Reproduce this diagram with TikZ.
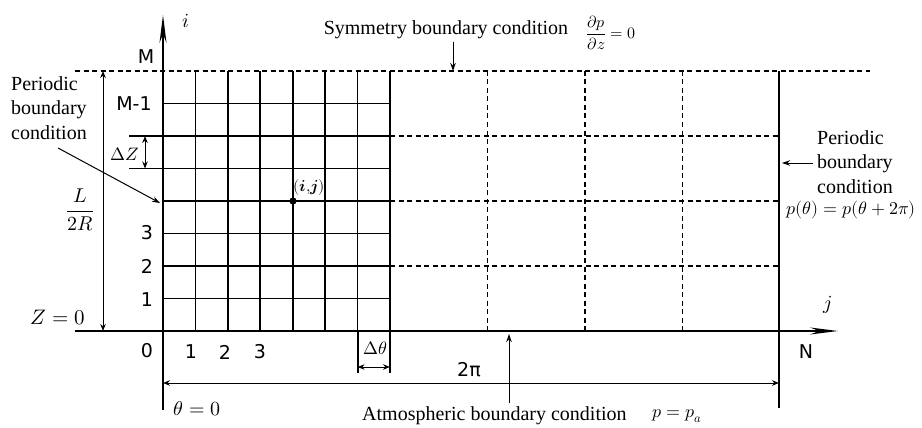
\documentclass[tikz,border=0pt]{standalone}
\usepackage{amsmath}
\usepackage{fontspec}
\usepackage{unicode-math}
\setmainfont{Liberation Serif}
\setmathfont{Latin Modern Math}
\newfontfamily\lblfont{DejaVu Sans}
\usetikzlibrary{arrows.meta}
\begin{document}
\begin{tikzpicture}[x=1pt,y=-1pt,
  gridline/.style={line width=1.8pt},
  dgridline/.style={line width=1.6pt,dash pattern=on 5pt off 3.5pt},
  axisline/.style={line width=1.8pt},
  dimline/.style={line width=1pt},
  lbl/.style={font=\fontsize{19}{22}\lblfont, inner sep=0pt},
  txt/.style={font=\fontsize{20}{24.5}\selectfont, inner sep=0pt, align=left},
  mth/.style={font=\fontsize{20}{22}\selectfont, inner sep=0pt},
  dmth/.style={font=\fontsize{18}{22}\selectfont, inner sep=0pt},
  smth/.style={font=\fontsize{18}{20}\selectfont, inner sep=0pt},
  onetip/.style={dimline,-{Stealth[length=8pt,width=5.5pt]}},
  twotip/.style={dimline,{Stealth[length=7pt,width=5.5pt]}-{Stealth[length=7pt,width=5.5pt]}},
  axtip/.style={axisline,-{Stealth[length=28pt,width=7pt]}}
]
\useasboundingbox (0,0) rectangle (922,428);
% coordinates
\coordinate (O) at (163,331);
\coordinate (itop) at (163,15);
\coordinate (ibot) at (163,410);
\coordinate (jleft) at (75,331);
\coordinate (jtip) at (838,331);
\coordinate (topL) at (75,71);
\coordinate (topR) at (870,71);
\coordinate (Ntop) at (779,71);
\coordinate (Nbot) at (779,408);
% fine grid verticals
\foreach \k in {1,...,7} {
  \pgfmathsetmacro{\xx}{163+227/7*\k}
  \draw[gridline] (\xx,71) -- (\xx,331);
}
\draw[gridline] (357.6,331) -- (357.6,373);
\draw[gridline] (390,331) -- (390,373);
% fine grid horizontals
\foreach \yy in {298.5,266,233.5,201,103.5} \draw[gridline] (163,\yy) -- (390,\yy);
\foreach \yy in {168.5,136} \draw[gridline] (129,\yy) -- (390,\yy);
% coarse dashed grid
\foreach \yy in {136,201,266} \draw[dgridline] (390,\yy) -- (779,\yy);
\foreach \xx in {487.5,585,682.5} \draw[dgridline] (\xx,71) -- (\xx,331);
\draw[dgridline] (topL) -- (topR);
% N boundary
\draw[gridline] (Ntop) -- (Nbot);
% axes
\draw[axtip] (ibot) -- (itop);
\draw[axtip] (jleft) -- (jtip);
\node[mth] (ilab) at (186,21) {$i$};
\node[mth] (jlab) at (828,305) {$j$};
% axis labels
\node[lbl] (lM) at (146,57) {M};
\node[lbl] (lM1) at (134,104) {M-1};
\node[lbl] (l3) at (147,233) {3};
\node[lbl] (l2) at (147,266) {2};
\node[lbl] (l1) at (147,300) {1};
\node[lbl] (b0) at (147,351) {0};
\node[lbl] (b1) at (191,352) {1};
\node[lbl] (b2) at (225,352) {2};
\node[lbl] (b3) at (260,352) {3};
\node[lbl] (lN) at (806,352) {N};
% point (i,j)
\fill (293,201) circle (3.6pt) coordinate (pij);
\node[font=\fontsize{16}{18}\selectfont, inner sep=0pt] (pijlab) at (309,187) {$\symbfit{(i{,}j)}$};
% Delta Z
\coordinate (dz1) at (145,136);
\coordinate (dz2) at (145,168.5);
\draw[twotip] (dz1) -- (dz2);
\node[dmth] (dzlab) at (125,154) {$\Delta Z$};
% L/2R
\coordinate (lr1) at (103,71);
\coordinate (lr2) at (103,331);
\draw[twotip] (lr1) -- (lr2);
\node[mth] (lrlab) at (80,210) {$\dfrac{L}{2R}$};
\node[mth, font=\fontsize{21}{22}\selectfont] (z0) at (58,318) {$Z=0$};
\node[mth] (t0) at (197,409) {$\theta=0$};
% Delta theta
\coordinate (dt1) at (357.6,367);
\coordinate (dt2) at (390,367);
\draw[twotip] (dt1) -- (dt2);
\node[dmth] (dtlab) at (375,348) {$\Delta\theta$};
% 2pi
\coordinate (tp1) at (163,383);
\coordinate (tp2) at (779,383);
\draw[twotip] (tp1) -- (tp2);
\node[lbl] (twopi) at (469,370) {2π};
% symmetry
\node[txt] (sym) at (446,30) {Symmetry boundary condition};
\node[font=\fontsize{16}{18}\selectfont, inner sep=0pt, anchor=west] (symeq) at (586,33) {$\dfrac{\partial p}{\partial z}=0$};
\coordinate (symtip) at (453,71);
\draw[onetip] (453,42) coordinate (symstart) -- (symtip);
% left periodic
\node[txt, anchor=west] (lper) at (11,108) {Periodic\\boundary\\condition};
\coordinate (lpstart) at (58,148);
\coordinate (lptip) at (160,203);
\draw[onetip] (lpstart) -- (lptip);
% right periodic
\node[txt, anchor=west] (rper) at (817,162) {Periodic\\boundary\\condition};
\coordinate (rpstart) at (813,163);
\coordinate (rptip) at (782,163);
\draw[onetip] (rpstart) -- (rptip);
\node[smth, anchor=west] (rpeq) at (786,210) {$p(\theta)=p(\theta+2\pi)$};
% atmospheric
\node[txt, anchor=west] (atm) at (362,416) {Atmospheric boundary condition};
\node[smth, anchor=west] (atmeq) at (652,416) {$p=p_a$};
\coordinate (atstart) at (509,403);
\coordinate (attip) at (509,334);
\draw[onetip] (atstart) -- (attip);
\end{tikzpicture}
\end{document}
